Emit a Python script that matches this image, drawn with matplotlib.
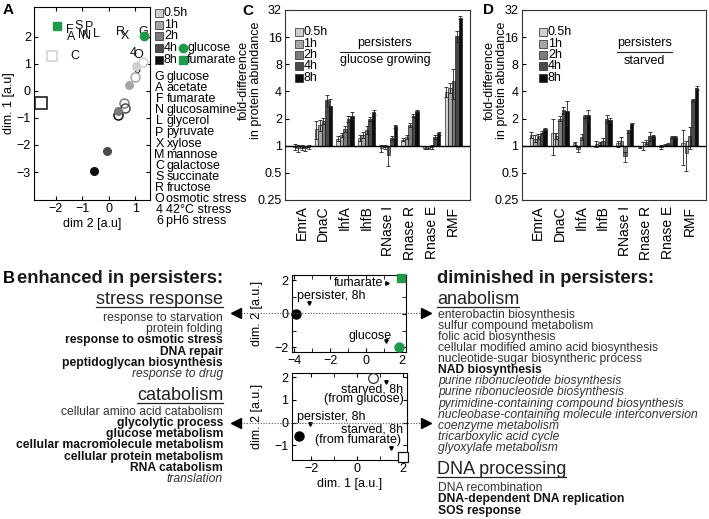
import matplotlib
matplotlib.use("Agg")
import matplotlib.pyplot as plt
from matplotlib.ticker import FixedLocator

plt.rcParams['font.family'] = ['Liberation Sans', 'DejaVu Sans']
plt.rcParams['font.size'] = 9
plt.rcParams['axes.linewidth'] = 0.8
plt.rcParams['xtick.direction'] = 'in'
plt.rcParams['ytick.direction'] = 'in'
plt.rcParams['xtick.major.size'] = 3
plt.rcParams['ytick.major.size'] = 3
plt.rcParams['xtick.minor.size'] = 3
plt.rcParams['ytick.minor.size'] = 3
plt.rcParams['xtick.major.pad'] = 2.5
plt.rcParams['ytick.major.pad'] = 2.5

W, H = 709, 519
fig = plt.figure(figsize=(W / 100, H / 100), dpi=100)


def add_ax(l, t, r, b):
    return fig.add_axes([l / W, 1 - b / H, (r - l) / W, (b - t) / H])


# ---------------- data ----------------
time_labels = ['0.5h', '1h', '2h', '4h', '8h']
time_greys = ['#d0d0d0', '#a6a6a6', '#7c7c7c', '#4a4a4a', '#0d0d0d']
green = '#1f9a48'

# Panel A (x = dim 2, y = dim 1)
a_letters = ['F', 'A', 'S', 'M', 'N', 'P', 'L', 'C', 'R', 'X', 'G', '4', 'O', '6']
a_letter_x = [-1.47, -1.43, -1.13, -0.96, -0.86, -0.75, -0.48, -1.30, 0.43, 0.62, 1.31, 0.93, 1.12, 1.06]
a_letter_y = [2.24, 1.97, 2.40, 2.05, 2.03, 2.36, 2.09, 1.28, 2.18, 2.03, 2.18, 1.40, 1.32, 0.78]
a_filled_x = [1.03, 0.77, 0.36, -0.08, -0.56]
a_filled_y = [0.93, 0.20, -0.75, -2.21, -2.95]
a_open_x = [1.31, 1.00, 0.58, 0.62, 0.33]
a_open_y = [1.05, 0.49, -0.44, -0.65, -0.90]
a_square_x = [-2.16, -2.55]
a_square_y = [1.28, -0.44]
a_square_time = [0, 4]
a_glucose_xy = [1.35, 2.03]
a_fumarate_xy = [-1.95, 2.40]
a_key_letters = ['G', 'A', 'F', 'N', 'L', 'P', 'X', 'M', 'C', 'S', 'R', 'O', '4', '6']
a_key_names = ['glucose', 'acetate', 'fumarate', 'glucosamine', 'glycerol', 'pyruvate', 'xylose',
               'mannose', 'galactose', 'succinate', 'fructose', 'osmotic stress', '42°C stress',
               'pH6 stress']

# Panels C / D
proteins = ['EmrA', 'DnaC', 'IhfA', 'IhfB', 'RNase I', 'Rnase R', 'Rnase E', 'RMF']
c_fold_05h = [0.97, 1.55, 1.20, 1.22, 0.94, 1.17, 0.95, 3.94]
c_fold_1h = [0.94, 1.69, 1.31, 1.31, 0.98, 1.25, 0.95, 4.40]
c_fold_2h = [0.95, 1.89, 1.55, 1.50, 0.79, 1.69, 0.97, 5.17]
c_fold_4h = [0.94, 3.24, 1.99, 1.99, 1.23, 2.15, 1.25, 16.3]
c_fold_8h = [0.97, 2.74, 2.16, 2.35, 1.64, 2.41, 1.37, 26.3]
c_err_05h = [0.08, 0.35, 0.08, 0.10, 0.08, 0.05, 0.04, 0.50]
c_err_1h = [0.08, 0.25, 0.06, 0.10, 0.05, 0.06, 0.04, 0.60]
c_err_2h = [0.06, 0.15, 0.12, 0.15, 0.20, 0.08, 0.05, 1.90]
c_err_4h = [0.06, 0.45, 0.15, 0.10, 0.06, 0.08, 0.05, 2.30]
c_err_8h = [0.06, 0.55, 0.20, 0.15, 0.06, 0.05, 0.06, 1.00]

d_fold_05h = [1.31, 1.39, 1.06, 1.04, 1.06, 0.97, 0.97, 1.06]
d_fold_1h = [1.20, 1.28, 0.92, 1.06, 1.13, 1.00, 1.02, 0.82]
d_fold_2h = [1.28, 2.00, 1.25, 1.13, 0.76, 1.11, 1.04, 1.28]
d_fold_4h = [1.39, 2.47, 2.12, 2.00, 1.45, 1.28, 1.25, 3.18]
d_fold_8h = [1.53, 2.41, 2.18, 1.94, 1.76, 1.28, 1.25, 4.40]
d_err_05h = [0.10, 0.60, 0.05, 0.08, 0.08, 0.03, 0.04, 0.45]
d_err_1h = [0.10, 0.10, 0.06, 0.05, 0.12, 0.10, 0.03, 0.30]
d_err_2h = [0.08, 0.12, 0.10, 0.10, 0.10, 0.06, 0.03, 0.35]
d_err_4h = [0.05, 0.20, 0.08, 0.20, 0.05, 0.15, 0.03, 0.15]
d_err_8h = [0.05, 0.70, 0.30, 0.10, 0.03, 0.05, 0.03, 0.20]
fold_ticks = [0.25, 0.5, 1, 2, 4, 8, 16, 32]
fold_ticklabels = ['0.25', '0.5', '1', '2', '4', '8', '16', '32']

# Panel B scatter insets
b1_persister_xy = [-3.88, 0.0]
b1_glucose_xy = [1.86, -2.0]
b1_fumarate_xy = [1.93, 2.1]
b2_persister_xy = [-2.55, -0.57]
b2_starved_glc_xy = [0.70, 1.98]
b2_starved_fum_xy = [1.98, -1.49]

# Panel B GO terms
stress_items = ['response to starvation', 'protein folding', 'response to osmotic stress',
                'DNA repair', 'peptidoglycan biosynthesis', 'response to drug']
stress_styles = ['n', 'n', 'b', 'b', 'b', 'i']
catab_items = ['cellular amino acid catabolism', 'glycolytic process', 'glucose metabolism',
               'cellular macromolecule metabolism', 'cellular protein metabolism',
               'RNA catabolism', 'translation']
catab_styles = ['n', 'b', 'b', 'b', 'b', 'b', 'i']
anab_items = ['enterobactin biosynthesis', 'sulfur compound metabolism', 'folic acid biosynthesis',
              'cellular modified amino acid biosynthesis', 'nucleotide-sugar biosyntheric process',
              'NAD biosynthesis', 'purine ribonucleotide biosynthesis',
              'purine ribonucleoside biosynthesis', 'pyrimidine-containing compound biosynthesis',
              'nucleobase-containing molecule interconversion', 'coenzyme metabolism',
              'tricarboxylic acid cycle', 'glyoxylate metabolism']
anab_styles = ['n', 'n', 'n', 'n', 'n', 'b', 'i', 'i', 'i', 'i', 'i', 'i', 'i']
dna_items = ['DNA recombination', 'DNA-dependent DNA replication', 'SOS response']
dna_styles = ['n', 'b', 'b']

# ---------------- Panel A ----------------
axA = add_ax(34.3, 7, 150, 200)
axA.set_xlim(-2.82, 1.56)
axA.set_ylim(-4.03, 3.09)
axA.set_xticks([-2, -1, 0, 1])
axA.set_yticks([-3, -2, -1, 0, 1, 2])
axA.tick_params(top=True, right=True, labelsize=9)
axA.set_xlabel('dim 2 [a.u]', fontsize=9, labelpad=2)
axA.set_ylabel('dim. 1 [a.u]', fontsize=9, labelpad=1)
for lx, ly, s in zip(a_letter_x, a_letter_y, a_letters):
    axA.text(lx, ly, s, fontsize=9, ha='center', va='center', color='#111')
for i, (x, y) in enumerate(zip(a_open_x, a_open_y)):
    axA.plot(x, y, 'o', ms=6.5, mfc='none', mec=time_greys[i], mew=1.1, zorder=3)
for i, (x, y) in enumerate(zip(a_filled_x, a_filled_y)):
    axA.plot(x, y, 'o', ms=5.5, mfc=time_greys[i], mec=time_greys[i], zorder=4)
for x, y, ti in zip(a_square_x, a_square_y, a_square_time):
    axA.plot(x, y, 's', ms=7 if ti == 0 else 8, mfc='none', mec=time_greys[ti], mew=1.1, zorder=3)
axA.plot(*a_glucose_xy, 'o', ms=6, color=green, zorder=5, clip_on=False)
axA.plot(*a_fumarate_xy, 's', ms=6, color=green, zorder=5)

# ---------------- Panels C & D ----------------
c_sets = [c_fold_05h, c_fold_1h, c_fold_2h, c_fold_4h, c_fold_8h]
c_errs = [c_err_05h, c_err_1h, c_err_2h, c_err_4h, c_err_8h]
d_sets = [d_fold_05h, d_fold_1h, d_fold_2h, d_fold_4h, d_fold_8h]
d_errs = [d_err_05h, d_err_1h, d_err_2h, d_err_4h, d_err_8h]
bw = 0.16


def bar_panel(ax, sets, errs):
    ax.set_yscale('log', base=2)
    for k, (vals, err) in enumerate(zip(sets, errs)):
        xs = [i + (k - 2) * bw for i in range(len(proteins))]
        heights = [v - 1 for v in vals]
        ax.bar(xs, heights, width=bw, bottom=1, color=time_greys[k], edgecolor='black',
               linewidth=0.4, zorder=2)
        ax.errorbar(xs, vals, yerr=err, fmt='none', ecolor='#222', elinewidth=0.6,
                    capsize=1.5, capthick=0.6, zorder=3)
    ax.axhline(1, color='black', lw=1.0, zorder=4)
    ax.set_ylim(0.25, 32)
    ax.set_xlim(-0.75, 7.75)
    ax.yaxis.set_major_locator(FixedLocator(fold_ticks))
    ax.yaxis.set_minor_locator(FixedLocator([]))
    ax.set_yticklabels(fold_ticklabels)
    ax.set_xticks(range(len(proteins)))
    ax.set_xticklabels(proteins, rotation=90, fontsize=10)
    ax.tick_params(axis='x', length=0, pad=4)
    ax.tick_params(axis='y', labelsize=9, length=3)
    for s in ax.spines.values():
        s.set_color('#333')


axC = add_ax(285.4, 10, 469.6, 200)
bar_panel(axC, c_sets, c_errs)
axD = add_ax(522, 10, 706, 200)
bar_panel(axD, d_sets, d_errs)

# ---------------- Panel B scatter insets ----------------
axB1 = add_ax(291.7, 275, 406, 351.7)
axB1.set_xlim(-4.14, 2.23)
axB1.set_ylim(-2.26, 2.3)
axB1.set_xticks([-4, -2, 0, 2])
axB1.set_xticks([-3, -1, 1], minor=True)
axB1.set_yticks([-2, 0, 2])
axB1.set_yticks([-1, 1], minor=True)
axB1.tick_params(which='both', top=True, right=True, labelsize=9)
axB1.set_ylabel('dim. 2 [a.u.]', fontsize=9, labelpad=8)
axB1.plot(*b1_persister_xy, 'o', ms=6.5, color='black', zorder=5, clip_on=False)
axB1.plot(*b1_fumarate_xy, 's', ms=6, color=green, zorder=5, clip_on=False)
axB1.plot(*b1_glucose_xy, 'o', ms=6.5, color=green, zorder=5, clip_on=False)
axB1.text(0.96, 1.85, 'fumarate', ha='right', va='center', fontsize=9)
axB1.plot(1.17, 1.85, '>', ms=2.5, color='black')
axB1.text(-3.84, 1.05, 'persister, 8h', ha='left', va='center', fontsize=9)
axB1.plot(-3.16, 0.62, 'v', ms=2.5, color='black')
axB1.text(1.43, -1.33, 'glucose', ha='right', va='center', fontsize=9)
axB1.plot(1.11, -1.62, 'v', ms=2.5, color='black')

axB2 = add_ax(291.7, 373.3, 406.7, 460)
axB2.set_xlim(-2.86, 2.15)
axB2.set_ylim(-1.64, 2.17)
axB2.set_xticks([-2, 0, 2])
axB2.set_xticks([-1, 1], minor=True)
axB2.set_yticks([-1, 0, 1, 2])
axB2.tick_params(which='both', top=True, right=True, labelsize=9)
axB2.set_xlabel('dim. 1 [a.u.]', fontsize=9, labelpad=2)
axB2.set_ylabel('dim. 2 [a.u.]', fontsize=9, labelpad=8)
axB2.plot(*b2_persister_xy, 'o', ms=6.5, color='black', zorder=5)
axB2.plot(*b2_starved_glc_xy, 'o', ms=7, mfc='white', mec='#333', mew=0.9, zorder=5, clip_on=False)
axB2.plot(*b2_starved_fum_xy, 's', ms=7, mfc='white', mec='#111', mew=0.9, zorder=5, clip_on=False)
axB2.text(1.99, 1.46, 'starved, 8h', ha='right', va='center', fontsize=9)
axB2.text(2.0, 1.03, '(from glucose)', ha='right', va='center', fontsize=9)
axB2.plot(1.25, 1.78, 'v', ms=2.5, color='black')
axB2.text(-2.65, 0.26, 'persister, 8h', ha='left', va='center', fontsize=9)
axB2.plot(-2.07, -0.06, 'v', ms=2.5, color='black')
axB2.text(1.99, -0.29, 'starved, 8h', ha='right', va='center', fontsize=9)
axB2.text(1.9, -0.76, '(from fumarate)', ha='right', va='center', fontsize=9)
axB2.plot(1.47, -1.10, 'v', ms=2.5, color='black')

# ---------------- overlay for free text ----------------
ov = fig.add_axes([0, 0, 1, 1])
ov.set_xlim(0, W)
ov.set_ylim(H, 0)
ov.axis('off')
ov.patch.set_alpha(0)

# panel letters
ov.text(3, 10, 'A', fontsize=11, fontweight='bold', va='center', ha='left')
ov.text(248, 11, 'C', fontsize=11, fontweight='bold', va='center', ha='center')
ov.text(489, 10, 'D', fontsize=11, fontweight='bold', va='center', ha='center')

# Panel A legend
for i, (lab, col) in enumerate(zip(time_labels, time_greys)):
    y = 13 + 11.7 * i
    ov.plot(158.5, y, 's', ms=6, mfc=col, mec='#222', mew=0.5)
    ov.text(164, y, lab, fontsize=9, va='center', ha='left')
ov.plot(182.5, 13 + 11.7 * 3, 'o', ms=6, color=green)
ov.text(187, 13 + 11.7 * 3, 'glucose', fontsize=9, va='center', ha='left')
ov.plot(182.5, 13 + 11.7 * 4, 's', ms=6, color=green)
ov.text(187, 13 + 11.7 * 4, 'fumarate', fontsize=9, va='center', ha='left')
for i, (l, n) in enumerate(zip(a_key_letters, a_key_names)):
    y = 77 + 11.1 * i
    ov.text(159.5, y, l, fontsize=9, va='center', ha='center')
    ov.text(166.5, y, n, fontsize=9, va='center', ha='left')

# Panels C/D legends and titles
for x0, xt in [(298.5, 303.5), (543.2, 548)]:
    for i, (lab, col) in enumerate(zip(time_labels, time_greys)):
        y = 32.3 + 11.35 * i
        ov.plot(x0, y, 's', ms=5.5, mfc=col, mec='#222', mew=0.5)
        ov.text(xt, y, lab, fontsize=9, va='center', ha='left')
ov.text(385, 43, 'persisters', fontsize=9, ha='center', va='center')
ov.plot([340, 430], [51.7, 51.7], color='#222', lw=0.8)
ov.text(385, 60.5, 'glucose growing', fontsize=9, ha='center', va='center')
ov.text(644.5, 43, 'persisters', fontsize=9, ha='center', va='center')
ov.plot([617, 672], [51.7, 51.7], color='#222', lw=0.8)
ov.text(644.5, 60.5, 'starved', fontsize=9, ha='center', va='center')
for xl in [250, 496]:
    ov.text(xl, 80, 'fold-difference\nin protein abundance', fontsize=9, rotation=90,
            ha='center', va='center', linespacing=1.0)

# Panel B text
ov.text(3, 283, 'B', fontsize=12, fontweight='bold', va='baseline', ha='left')
ov.text(17, 283, 'enhanced in persisters:', fontsize=13.2, fontweight='bold', va='baseline',
        ha='left', color='#1a1a1a')
ov.text(437, 283, 'diminished in persisters:', fontsize=13.2, fontweight='bold', va='baseline',
        ha='left', color='#1a1a1a')

headers = []
headers.append(ov.text(223, 304, 'stress response', fontsize=13, ha='right', va='baseline', color='#222'))
headers.append(ov.text(223, 400, 'catabolism', fontsize=13, ha='right', va='baseline', color='#222'))
headers.append(ov.text(437, 304, 'anabolism', fontsize=13, ha='left', va='baseline', color='#222'))
headers.append(ov.text(437, 474.5, 'DNA processing', fontsize=13, ha='left', va='baseline', color='#222'))


def item_list(items, styles, x, y0, ha, dy=11.1):
    for i, (s, st) in enumerate(zip(items, styles)):
        kw = dict(fontsize=8.7, ha=ha, va='baseline')
        if st == 'b':
            kw.update(fontweight='bold', color='#111')
        elif st == 'i':
            kw.update(fontstyle='italic', color='#333')
        else:
            kw.update(color='#333')
        ov.text(x, y0 + dy * i, s, **kw)


item_list(stress_items, stress_styles, 223, 321.2, 'right')
item_list(catab_items, catab_styles, 223, 415.2, 'right')
item_list(anab_items, anab_styles, 438, 317.8, 'left')
item_list(dna_items, dna_styles, 438, 491.2, 'left', dy=11.2)

# underline headers
renderer = fig.canvas.get_renderer()
for t in headers:
    bb = t.get_window_extent(renderer=renderer)
    yb = t.get_position()[1] + 2.5
    ov.plot([bb.x0, bb.x1], [yb, yb], color='#222', lw=0.9)

# dotted connectors with arrowheads
for yline in [313.2, 422.7]:
    ov.plot([238, 424], [yline, yline], ls=(0, (1, 1.5)), color='#555', lw=0.8)
    ov.plot(236, yline, '<', ms=7, color='black')
    ov.plot(426, yline, '>', ms=7, color='black')

fig.savefig('out.png', dpi=100)
